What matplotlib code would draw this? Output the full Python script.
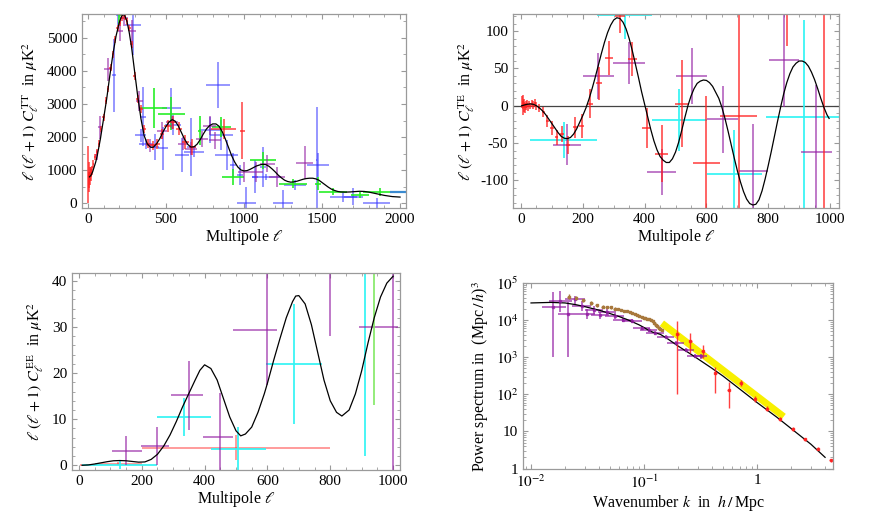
import matplotlib
matplotlib.use("Agg")
import matplotlib.pyplot as plt
import numpy as np
from matplotlib.ticker import MultipleLocator, FixedLocator, FixedFormatter, LogLocator, NullFormatter

plt.rcParams["font.family"] = ["Liberation Serif", "DejaVu Serif"]
plt.rcParams["mathtext.fontset"] = "stix"
plt.rcParams["axes.unicode_minus"] = False

# ---------------- TT panel ----------------
TT_MODEL_L = [10, 20, 30, 40, 50, 60, 70, 80, 90, 100, 120, 140, 160, 180, 200, 215, 225, 235,
              250, 265, 280, 300, 320, 340, 360, 380, 400, 410, 420, 440, 460, 480, 500, 520,
              540, 560, 580, 600, 620, 640, 660, 680, 700, 720, 740, 760, 780, 800, 820, 840,
              860, 880, 900, 920, 940, 960, 980, 1000, 1020, 1040, 1060, 1080, 1100, 1120, 1140,
              1160, 1180, 1200, 1220, 1240, 1260, 1280, 1300, 1320, 1340, 1360, 1380, 1400, 1420,
              1440, 1460, 1480, 1500, 1520, 1540, 1560, 1580, 1600, 1620, 1650, 1680, 1710, 1740,
              1770, 1800, 1850, 1900, 1950, 2000]
TT_MODEL_V = [800, 850, 950, 1100, 1250, 1450, 1700, 1950, 2250, 2550, 3150, 3850, 4500, 5050,
              5450, 5650, 5700, 5680, 5500, 5150, 4700, 3950, 3200, 2550, 2050, 1800, 1700, 1690,
              1700, 1800, 1950, 2150, 2320, 2460, 2530, 2480, 2330, 2130, 1930, 1780, 1700, 1710,
              1790, 1930, 2100, 2250, 2350, 2400, 2400, 2330, 2170, 1950, 1700, 1450, 1250, 1100,
              1010, 980, 990, 1030, 1080, 1130, 1160, 1180, 1170, 1120, 1040, 950, 850, 770, 700,
              660, 640, 650, 670, 700, 730, 750, 760, 760, 740, 700, 630, 560, 490, 430, 390, 360,
              345, 340, 345, 355, 365, 360, 340, 290, 240, 205, 190]

# rows: (l, dl, value, err)
TT_RED = [(3, 1, 870, 870), (5, 1, 800, 450), (8, 1, 700, 250), (11, 1, 900, 200), (14, 1, 750, 200),
          (18, 2, 850, 180), (22, 2, 950, 150), (27, 2, 1000, 130), (35, 4, 1200, 120),
          (45, 4, 1400, 100), (57, 5, 1550, 100), (70, 6, 1800, 100), (85, 6, 2250, 100),
          (100, 7, 2600, 100), (115, 7, 3100, 100), (130, 7, 3450, 100), (145, 7, 4100, 100),
          (160, 8, 4500, 100), (175, 8, 4950, 100), (190, 8, 5300, 100), (205, 8, 5450, 100),
          (220, 8, 5600, 100), (235, 8, 5650, 100), (250, 8, 5500, 100), (265, 8, 5300, 100),
          (280, 8, 4800, 110), (300, 10, 3850, 110), (320, 10, 3150, 120), (340, 10, 2850, 120),
          (360, 10, 2250, 120), (385, 12, 1800, 130), (415, 15, 1750, 140), (445, 15, 1800, 150),
          (475, 15, 2100, 160), (510, 20, 2350, 180), (545, 20, 2450, 190), (585, 20, 2250, 200),
          (625, 25, 1850, 220), (670, 25, 1700, 250), (870, 80, 2250, 300), (990, 15, 2200, 850)]
TT_PURPLE = [(55, 8, 1450, 150), (75, 10, 2300, 350), (130, 25, 4050, 350), (205, 20, 5200, 300),
             (230, 25, 5600, 250), (285, 25, 5200, 350), (330, 25, 3100, 300), (400, 30, 1750, 200),
             (475, 30, 2200, 250), (540, 40, 2450, 200), (610, 30, 1800, 200), (660, 40, 1650, 200),
             (730, 40, 1950, 250), (780, 40, 2350, 300), (815, 40, 1900, 250), (1000, 40, 950, 300),
             (1080, 40, 950, 300), (1150, 50, 1200, 250), (1210, 50, 800, 300), (1390, 55, 1230, 500)]
TT_BLUE = [(167, 15, 3870, 1100), (195, 15, 5700, 300), (289, 50, 5380, 900), (353, 20, 2620, 900),
           (337, 37, 2060, 200), (375, 45, 1800, 150), (428, 30, 1710, 400), (481, 30, 1660, 650),
           (535, 60, 2870, 600), (545, 50, 2360, 300), (605, 45, 1460, 500), (663, 30, 1700, 880),
           (680, 65, 1560, 150), (780, 70, 2210, 400), (834, 75, 3570, 700), (855, 75, 2060, 450),
           (888, 75, 1460, 450), (930, 20, 1160, 350), (973, 20, 850, 300), (1016, 60, 0, 500),
           (1070, 20, 800, 500), (1123, 20, 1100, 600), (1144, 90, 800, 100), (1251, 64, 0, 400),
           (1326, 70, 550, 150), (1465, 5, 1300, 1600), (1476, 70, 1160, 350), (1636, 85, 200, 150),
           (1700, 60, 200, 250), (1850, 85, 0, 150)]
TT_GREEN = [(200, 10, 5700, 300), (421, 85, 2870, 600), (535, 85, 2710, 500), (716, 10, 2200, 450),
            (855, 60, 2300, 300), (930, 70, 800, 250), (1123, 85, 1300, 250), (1316, 90, 600, 150),
            (1476, 20, 600, 200), (1572, 90, 350, 100), (1743, 60, 250, 80), (1872, 110, 350, 120)]
TT_STEEL = [(1990, 55, 330, 0)]

# ---------------- TE panel ----------------
TE_MODEL_L = [2, 10, 20, 30, 40, 50, 60, 70, 80, 90, 100, 110, 120, 130, 140, 150, 160, 170, 180,
              190, 200, 210, 220, 230, 240, 250, 260, 270, 280, 290, 300, 310, 320, 330, 340, 350,
              360, 370, 380, 390, 400, 410, 420, 430, 440, 450, 460, 470, 480, 490, 500, 510, 520,
              530, 540, 550, 560, 570, 580, 590, 600, 610, 620, 630, 640, 650, 660, 670, 680, 690,
              700, 710, 720, 730, 740, 750, 760, 770, 780, 790, 800, 810, 820, 830, 840, 850, 860,
              870, 880, 890, 900, 910, 920, 930, 940, 950, 960, 970, 980, 990, 997]
TE_MODEL_V = [0, 1, 2, 2.5, 2, 0, -3, -7, -12, -18, -24, -30, -36, -41, -43.5, -44, -42.5, -38, -31,
              -22, -13, -3, 9, 23, 38, 54, 70, 85, 98, 108, 115, 118, 117, 112, 103, 90, 74, 56, 38,
              19, 2, -15, -32, -47, -59, -68, -73, -76, -76, -71, -62, -49, -33, -16, 0, 13, 23, 30,
              33, 34.5, 34, 31, 26, 18, 10, -2, -17, -34, -52, -70, -87, -102, -115, -125, -131,
              -133, -132, -126, -114, -98, -80, -61, -41, -21, -2, 16, 31, 43, 52, 57, 60, 60, 58,
              53, 45, 35, 23, 10, -2, -12, -17]

TE_RED = [(3, 1, 5, 8), (5, 1, -3, 10), (7, 1, 6, 8), (9, 1, -2, 7), (11, 1, 3, 6), (13, 1, -4, 6),
          (15, 1, 2, 5), (17, 1, -1, 5), (20, 1, 3, 5), (23, 1, -2, 5), (26, 1, 2, 4), (30, 2, 0, 4),
          (35, 2, 3, 5), (40, 2, 1, 5), (45, 3, 4, 5), (50, 3, 0, 5), (57, 3, -3, 6), (72, 5, -8, 7),
          (85, 5, -20, 8), (100, 6, -30, 9), (115, 6, -42, 10), (132, 7, -38, 11), (152, 7, -52, 12),
          (175, 8, -29, 14), (196, 9, -27, 16), (223, 10, 3, 20), (253, 10, 30, 22), (285, 12, 64, 23),
          (320, 15, 120, 22), (360, 15, 63, 23), (407, 15, -30, 27), (455, 20, -64, 38),
          (520, 22, 3, 58), (600, 44, -77, 90), (705, 60, -14, 150), (860, 0, 180, 100),
          (982, 0, 0, 200)]
TE_PURPLE = [(150, 45, -52, 27), (250, 50, 40, 31), (350, 52, 57, 28), (455, 48, -89, 31),
             (552, 50, 40, 38), (652, 50, -18, 45), (752, 48, -87, 62), (850, 48, 62, 63),
             (955, 50, -62, 90)]
TE_CYAN = [(138, 109, -46, 24), (335, 88, 122, 32), (512, 89, -19, 41), (690, 89, -92, 60),
           (917, 125, -15, 130)]

# ---------------- EE panel ----------------
EE_MODEL_L = [10, 30, 50, 70, 90, 110, 130, 150, 170, 190, 210, 230, 250, 270, 290, 310, 330, 350,
              370, 385, 400, 420, 440, 460, 480, 500, 515, 530, 550, 570, 590, 600, 620, 640, 660,
              680, 690, 700, 720, 740, 760, 780, 800, 820, 837, 860, 880, 900, 920, 940, 960, 980,
              1000]
EE_MODEL_V = [0.02, 0.1, 0.3, 0.55, 0.8, 1.0, 1.05, 1.0, 0.85, 0.7, 0.75, 1.3, 2.4, 4.2, 6.6, 9.5,
              12.7, 15.6, 18.5, 20.6, 21.8, 21.0, 18.5, 14.5, 10.5, 7.5, 6.4, 6.8, 8.3, 11.5, 15.5,
              17.8, 22.8, 27.5, 32.0, 35.5, 36.7, 36.8, 35.0, 30.5, 24.5, 18.5, 14.0, 11.5, 10.7,
              12.0, 15.5, 20.5, 26.5, 32.0, 36.5, 39.5, 41.0]

# rows: (l, dl_minus, dl_plus, value, err)
EE_RED = [(25, 22, 25, 0.1, 0.3), (125, 75, 75, 0.4, 0.4), (500, 300, 300, 3.85, 2.75)]
EE_PURPLE = [(150, 46, 50, 3.2, 3.2), (250, 52, 38, 4.2, 4.2), (351, 59, 43, 15.2, 7.5),
             (449, 53, 41, 6.1, 9.5), (600, 109, 30, 29.4, 12.0), (800, 0, 0, 45.0, 17.0),
             (999, 109, 18, 30.1, 32.0)]
EE_CYAN = [(130, 120, 120, 0.1, 0.8), (333, 86, 86, 10.4, 4.1), (506, 84, 91, 3.5, 4.9),
           (684, 87, 89, 22.0, 13.0), (912, 0, 0, 30.0, 28.0)]
EE_GREEN = [(940, 0, 0, 30.0, 17.0)]

# ---------------- matter power spectrum panel ----------------
PK_MODEL_K = [0.010, 0.015, 0.020, 0.025, 0.030, 0.040, 0.050, 0.060, 0.070, 0.080, 0.090, 0.100,
              0.110, 0.120, 0.130, 0.140, 0.160, 0.180, 0.200, 0.250, 0.300, 0.400, 0.500, 0.700,
              1.0, 1.5, 2.0, 3.0, 4.0]
PK_MODEL_P = [2.9e4, 3.0e4, 2.9e4, 2.6e4, 2.3e4, 1.85e4, 1.5e4, 1.25e4, 1.05e4, 8.8e3, 7.5e3,
              6.3e3, 5.3e3, 4.7e3, 4.4e3, 4.1e3, 3.2e3, 2.5e3, 2.0e3, 1.3e3, 900, 500, 310, 140,
              60, 24, 12, 4.5, 2.0]

# rows: (k, k_min, k_max, P, P_min, P_max)
PK_PURPLE = [(0.0158, 0.0125, 0.0205, 2.2e4, 1.0e3, 5.8e4), (0.0180, 0.0145, 0.0230, 3.3e4, 1.7e4, 6.2e4),
             (0.0213, 0.0175, 0.0260, 1.45e4, 1.0e3, 3.0e4), (0.0245, 0.020, 0.030, 3.6e4, 2.6e4, 4.6e4),
             (0.0280, 0.023, 0.034, 2.4e4, 1.8e4, 3.2e4), (0.031, 0.026, 0.037, 1.5e4, 1.1e4, 2.0e4),
             (0.036, 0.030, 0.043, 1.9e4, 1.5e4, 2.4e4), (0.041, 0.034, 0.049, 1.35e4, 1.05e4, 1.7e4),
             (0.047, 0.039, 0.056, 1.7e4, 1.4e4, 2.05e4), (0.055, 0.045, 0.066, 1.3e4, 1.1e4, 1.55e4),
             (0.065, 0.053, 0.080, 1.0e4, 8.8e3, 1.15e4), (0.078, 0.064, 0.095, 9.6e3, 8.5e3, 1.08e4),
             (0.095, 0.080, 0.112, 6.0e3, 5.3e3, 6.8e3), (0.110, 0.093, 0.130, 5.5e3, 4.9e3, 6.1e3),
             (0.125, 0.105, 0.150, 4.5e3, 4.0e3, 5.0e3), (0.155, 0.130, 0.185, 3.6e3, 3.2e3, 4.0e3),
             (0.190, 0.160, 0.225, 2.4e3, 2.1e3, 2.7e3), (0.235, 0.200, 0.275, 1.6e3, 1.4e3, 1.8e3),
             (0.280, 0.240, 0.320, 1.1e3, 950, 1.25e3), (0.320, 0.275, 0.360, 1.05e3, 920, 1.2e3)]
# rows: (k, P, dP)
PK_BROWN = [(0.0215, 4.3e4, 7e3), (0.025, 3.9e4, 5e3), (0.029, 3.4e4, 4e3), (0.034, 2.9e4, 3e3),
            (0.038, 2.5e4, 2.5e3), (0.043, 2.3e4, 2e3), (0.047, 2.25e4, 1.8e3), (0.051, 2.2e4, 1.6e3),
            (0.055, 2.05e4, 1.4e3), (0.059, 1.95e4, 1.2e3), (0.063, 1.87e4, 1.1e3),
            (0.067, 1.8e4, 1e3), (0.071, 1.72e4, 900), (0.075, 1.65e4, 800), (0.079, 1.58e4, 800),
            (0.083, 1.5e4, 700), (0.087, 1.4e4, 700), (0.091, 1.3e4, 600), (0.095, 1.22e4, 600),
            (0.099, 1.15e4, 500), (0.103, 1.12e4, 500), (0.107, 1.1e4, 500), (0.111, 1.05e4, 450),
            (0.115, 1.0e4, 450), (0.119, 9.2e3, 400), (0.123, 8.4e3, 400), (0.127, 7.6e3, 350),
            (0.131, 6.9e3, 300), (0.135, 6.3e3, 300), (0.139, 5.8e3, 250), (0.143, 5.3e3, 250)]
# rows: (k, P, P_min, P_max)
PK_RED = [(0.196, 4.2e3, 105, 9.7e3), (0.257, 2.8e3, 1.27e3, 4.4e3), (0.33, 1.5e3, 930, 2.1e3),
          (0.427, 365, 110, 550), (0.56, 130, 44, 220), (0.72, 204, 165, 250), (0.95, 74, 62, 88),
          (1.22, 41, 35, 48), (1.59, 21.6, 18.5, 25), (2.06, 11.8, 10.5, 13.3), (2.64, 6.1, 5.5, 6.8),
          (3.46, 3.4, 3.1, 3.8), (4.5, 1.65, 1.5, 1.8)]
PK_BAND_K = [0.144, 1.72]
PK_BAND_P = [8.2e3, 25.0]

RED = "#ff2020"
PURPLE = "#9420a4"
BLUE = "#3030ff"
GREEN = "#22ee22"
CYAN = "#30f4f4"
BROWN = "#a8783c"
FRAME = "#9a9a9a"


def style_axes(ax):
    for sp in ax.spines.values():
        sp.set_color(FRAME)
        sp.set_linewidth(0.9)
    ax.tick_params(which="both", direction="in", top=True, right=True, color=FRAME,
                   labelsize=11, labelcolor="black")
    ax.tick_params(which="major", length=3.5, width=0.8)
    ax.tick_params(which="minor", length=2, width=0.6)


def crosses(ax, rows, color, alpha=1.0, lw=1.3):
    rows = np.array(rows, dtype=float)
    if rows.shape[1] == 4:
        l, dl, v, dv = rows.T
        xerr = dl
    else:
        l, dlm, dlp, v, dv = rows.T
        xerr = [dlm, dlp]
    ax.errorbar(l, v, xerr=xerr, yerr=dv, fmt="none", ecolor=color, elinewidth=lw,
                alpha=alpha, capsize=0)


def panel_tt(ax):
    crosses(ax, TT_BLUE, BLUE, alpha=0.55)
    crosses(ax, TT_GREEN, GREEN, alpha=0.9)
    crosses(ax, TT_PURPLE, PURPLE, alpha=0.6)
    crosses(ax, TT_STEEL, "#3a8ad0", lw=1.6)
    crosses(ax, TT_RED, RED, alpha=0.85, lw=1.1)
    ax.plot(TT_MODEL_L, TT_MODEL_V, color="black", lw=0.9)
    ax.set_xlim(-38, 2038)
    ax.set_ylim(-140, 5720)
    ax.xaxis.set_major_locator(MultipleLocator(500))
    ax.xaxis.set_minor_locator(MultipleLocator(100))
    ax.yaxis.set_major_locator(MultipleLocator(1000))
    ax.yaxis.set_minor_locator(MultipleLocator(500))
    ax.set_xlabel(r"Multipole $\ell$", fontsize=11.5, labelpad=1)
    ax.set_ylabel(r"$\ell\;(\ell+1)\;C_\ell^{\,\mathrm{TT}}$  in $\mu$K$^2$", fontsize=11.5, labelpad=4)


def panel_te(ax):
    ax.axhline(0, color="#444444", lw=0.9)
    crosses(ax, TE_CYAN, CYAN, alpha=0.95)
    crosses(ax, TE_PURPLE, PURPLE, alpha=0.65)
    crosses(ax, TE_RED, RED, alpha=0.75)
    ax.plot(TE_MODEL_L, TE_MODEL_V, color="black", lw=0.9)
    ax.set_xlim(-26, 1029)
    ax.set_ylim(-137, 123)
    ax.xaxis.set_major_locator(MultipleLocator(200))
    ax.xaxis.set_minor_locator(MultipleLocator(50))
    ax.yaxis.set_major_locator(MultipleLocator(50))
    ax.yaxis.set_minor_locator(MultipleLocator(10))
    ax.set_xlabel(r"Multipole $\ell$", fontsize=11.5, labelpad=1)
    ax.set_ylabel(r"$\ell\;(\ell+1)\;C_\ell^{\,\mathrm{TE}}$  in $\mu$K$^2$", fontsize=11.5, labelpad=2)


def panel_ee(ax):
    crosses(ax, EE_RED, RED, alpha=0.45, lw=1.4)
    crosses(ax, EE_CYAN, CYAN, alpha=0.95)
    crosses(ax, EE_PURPLE, PURPLE, alpha=0.65)
    crosses(ax, EE_GREEN, "#7ee860", alpha=0.9)
    ax.plot(EE_MODEL_L, EE_MODEL_V, color="black", lw=0.9)
    ax.set_xlim(-22, 1022)
    ax.set_ylim(-1, 41.7)
    ax.xaxis.set_major_locator(MultipleLocator(200))
    ax.xaxis.set_minor_locator(MultipleLocator(50))
    ax.yaxis.set_major_locator(MultipleLocator(10))
    ax.yaxis.set_minor_locator(MultipleLocator(2))
    ax.set_xlabel(r"Multipole $\ell$", fontsize=11.5, labelpad=1)
    ax.set_ylabel(r"$\ell\;(\ell+1)\;C_\ell^{\,\mathrm{EE}}$  in $\mu$K$^2$", fontsize=11.5, labelpad=4)


def panel_pk(ax):
    ax.set_xscale("log")
    ax.set_yscale("log")
    ax.plot(PK_BAND_K, PK_BAND_P, color="#f8f000", lw=5, solid_capstyle="butt")

    pr = np.array(PK_PURPLE)
    k, kmin, kmax, p, pmin, pmax = pr.T
    ax.errorbar(k, p, xerr=[k - kmin, kmax - k], yerr=[p - pmin, pmax - p], fmt="s", ms=2,
                color=PURPLE, ecolor=PURPLE, elinewidth=1.3, alpha=0.7, capsize=0)

    br = np.array(PK_BROWN)
    k, p, dp = br.T
    ax.errorbar(k, p, yerr=dp, xerr=k * 0.03, fmt="s", ms=1.8, color=BROWN, ecolor=BROWN,
                elinewidth=1.0, capsize=0)

    ax.plot(PK_MODEL_K, PK_MODEL_P, color="black", lw=0.9)

    rd = np.array(PK_RED)
    k, p, pmin, pmax = rd.T
    ax.errorbar(k, p, yerr=[p - pmin, pmax - p], xerr=k * 0.03, fmt="s", ms=1.6, color=RED,
                ecolor=RED, elinewidth=1.0, alpha=0.85, capsize=0)

    ax.set_xlim(10 ** -2.071, 4.7)
    ax.set_ylim(0.97, 1e5)
    ax.xaxis.set_major_locator(FixedLocator([0.01, 0.1, 1]))
    ax.xaxis.set_major_formatter(FixedFormatter([r"$10^{-2}$", r"$10^{-1}$", "1"]))
    ax.xaxis.set_minor_locator(LogLocator(base=10, subs=np.arange(2, 10)))
    ax.xaxis.set_minor_formatter(NullFormatter())
    ax.yaxis.set_major_locator(FixedLocator([1, 10, 100, 1e3, 1e4, 1e5]))
    ax.yaxis.set_major_formatter(FixedFormatter(["1", "10", r"$10^{2}$", r"$10^{3}$",
                                                 r"$10^{4}$", r"$10^{5}$"]))
    ax.yaxis.set_minor_locator(LogLocator(base=10, subs=np.arange(2, 10)))
    ax.yaxis.set_minor_formatter(NullFormatter())
    ax.set_xlabel(r"Wavenumber $k$  in  $h\,/\,$Mpc", fontsize=11.5, labelpad=1)
    ax.set_ylabel(r"Power spectrum in  (Mpc$\,/\,h$)$^3$", fontsize=11.5, labelpad=3)


def main():
    fig = plt.figure(figsize=(8.7, 5.22), dpi=100)
    W, H = 870.0, 522.0

    def rect(l, t, r, b):
        return [l / W, 1 - b / H, (r - l) / W, (b - t) / H]

    ax_tt = fig.add_axes(rect(82, 14, 406, 208))
    ax_te = fig.add_axes(rect(513, 14, 839, 208))
    ax_ee = fig.add_axes(rect(72, 273, 400, 470))
    ax_pk = fig.add_axes(rect(523, 283, 833, 469))

    panel_tt(ax_tt)
    panel_te(ax_te)
    panel_ee(ax_ee)
    panel_pk(ax_pk)
    for ax in (ax_tt, ax_te, ax_ee, ax_pk):
        style_axes(ax)

    fig.savefig("out.png", dpi=100)


if __name__ == "__main__":
    main()
